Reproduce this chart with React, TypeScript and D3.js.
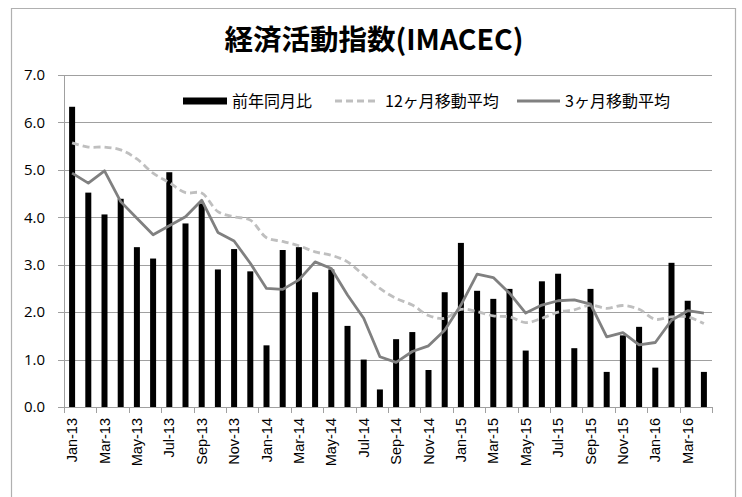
import React from "react"
import * as d3 from "d3"

const months = [
  "Jan-13", "Feb-13", "Mar-13", "Apr-13", "May-13", "Jun-13", "Jul-13", "Aug-13", "Sep-13", "Oct-13", "Nov-13", "Dec-13",
  "Jan-14", "Feb-14", "Mar-14", "Apr-14", "May-14", "Jun-14", "Jul-14", "Aug-14", "Sep-14", "Oct-14", "Nov-14", "Dec-14",
  "Jan-15", "Feb-15", "Mar-15", "Apr-15", "May-15", "Jun-15", "Jul-15", "Aug-15", "Sep-15", "Oct-15", "Nov-15", "Dec-15",
  "Jan-16", "Feb-16", "Mar-16", "Apr-16"
]

// 前年同月比
const yoy = [
  6.33, 4.52, 4.06, 4.39, 3.37, 3.13, 4.95, 3.87, 4.29, 2.90, 3.33, 2.86,
  1.30, 3.31, 3.37, 2.42, 2.90, 1.71, 1.00, 0.37, 1.43, 1.58, 0.78, 2.42,
  3.46, 2.45, 2.28, 2.49, 1.19, 2.65, 2.81, 1.24, 2.49, 0.74, 1.51, 1.69,
  0.83, 3.04, 2.24, 0.74
]

// 12ヶ月移動平均
const ma12 = [
  5.57, 5.48, 5.48, 5.42, 5.23, 4.93, 4.73, 4.52, 4.51, 4.12, 4.01, 3.94,
  3.57, 3.49, 3.40, 3.27, 3.20, 3.06, 2.78, 2.50, 2.29, 2.15, 1.93, 1.87,
  2.06, 2.01, 1.92, 1.90, 1.78, 1.87, 2.00, 2.05, 2.15, 2.08, 2.14, 2.06,
  1.85, 1.90, 1.90, 1.76
]

// 3ヶ月移動平均
const ma3 = [
  4.93, 4.72, 4.98, 4.33, 3.98, 3.63, 3.82, 4.01, 4.36, 3.68, 3.50, 3.03,
  2.50, 2.48, 2.68, 3.06, 2.92, 2.36, 1.87, 1.06, 0.94, 1.17, 1.29, 1.62,
  2.15, 2.80, 2.73, 2.40, 1.98, 2.15, 2.24, 2.26, 2.17, 1.48, 1.57, 1.31,
  1.36, 1.83, 2.03, 1.98
]

const yTicks = [0, 1, 2, 3, 4, 5, 6, 7]

const W = 742
const H = 497
const plot = { left: 64, right: 712, top: 75, bottom: 407 }

export default function App() {
  const x = d3.scaleBand<string>()
    .domain(months)
    .range([plot.left, plot.right])
    .paddingInner(0.63)
    .paddingOuter(0.315)
  const bw = x.bandwidth()
  const step = x.step()
  const cx = (m: string) => (x(m) as number) + bw / 2
  const edge = (m: string) => (x(m) as number) - (step - bw) / 2

  const y = d3.scaleLinear().domain([0, 7]).range([plot.bottom, plot.top])

  const line = d3.line<number>()
    .x((_, i) => cx(months[i]))
    .y(d => y(d))
  // excel-style smoothed line for the 12 month average
  const smooth = d3.line<number>()
    .x((_, i) => cx(months[i]))
    .y(d => y(d))
    .curve(d3.curveCatmullRom.alpha(0.5))

  const tickXs = months.filter((_, i) => i % 2 === 0).map(edge).concat([plot.right])

  const gridColor = "#a0a0a0"
  const jp = "'Noto Sans CJK JP', 'Noto Sans', sans-serif"

  return (
    <svg width={W} height={H} style={{ position: "absolute", left: 0, top: 0, background: "#fff" }}>
      <path d={`M11.5,${H + 2} V8.5 H735.5 V${H + 2}`} fill="none" stroke="#b0b0b0" strokeWidth={1.2} />

      <text x={374} y={50} textAnchor="middle" fontFamily={jp} fontWeight="bold" fontSize={28.5} fill="#000">
        経済活動指数(IMACEC)
      </text>

      {yTicks.map(t => (
        <g key={t}>
          <line x1={plot.left - 6} x2={plot.right} y1={Math.round(y(t)) + 0.5} y2={Math.round(y(t)) + 0.5}
            stroke={gridColor} strokeWidth={1} />
          <text x={45} y={y(t)} dy="0.35em" textAnchor="end" fontFamily="'Open Sans', sans-serif" fontSize={15} fill="#000">
            {t.toFixed(1)}
          </text>
        </g>
      ))}
      <line x1={plot.left + 0.5} x2={plot.left + 0.5} y1={plot.top} y2={plot.bottom} stroke={gridColor} />

      {tickXs.map((tx, i) => (
        <line key={i} x1={Math.round(tx) + 0.5} x2={Math.round(tx) + 0.5} y1={plot.bottom} y2={plot.bottom + 6} stroke={gridColor} />
      ))}
      {months.map((m, i) => i % 2 === 0 ? (
        <text key={m} transform={`translate(${cx(m)},${plot.bottom + 11}) rotate(-90)`} textAnchor="end" dy="0.35em"
          fontFamily="'Liberation Sans', Arial, sans-serif" fontSize={14.5} fill="#000">
          {m}
        </text>
      ) : null)}

      {yoy.map((v, i) => (
        <rect key={i} x={x(months[i])} y={y(v)} width={bw} height={plot.bottom - y(v)} fill="#000" />
      ))}

      <path d={smooth(ma12) || ""} fill="none" stroke="#bfbfbf" strokeWidth={2.8} strokeDasharray="7,4" />
      <path d={line(ma3) || ""} fill="none" stroke="#808080" strokeWidth={2.8} strokeLinejoin="round" />

      <g fontFamily={jp} fontSize={16} fill="#000">
        <rect x={183} y={97.5} width={44} height={7} fill="#000" />
        <text x={232} y={101} dy="0.35em">前年同月比</text>
        <line x1={335} x2={378} y1={101} y2={101} stroke="#bfbfbf" strokeWidth={2.8} strokeDasharray="7,4" />
        <text x={385} y={101} dy="0.35em">12ヶ月移動平均</text>
        <line x1={517} x2={560} y1={101} y2={101} stroke="#808080" strokeWidth={2.8} />
        <text x={565} y={101} dy="0.35em">3ヶ月移動平均</text>
      </g>
    </svg>
  )
}
